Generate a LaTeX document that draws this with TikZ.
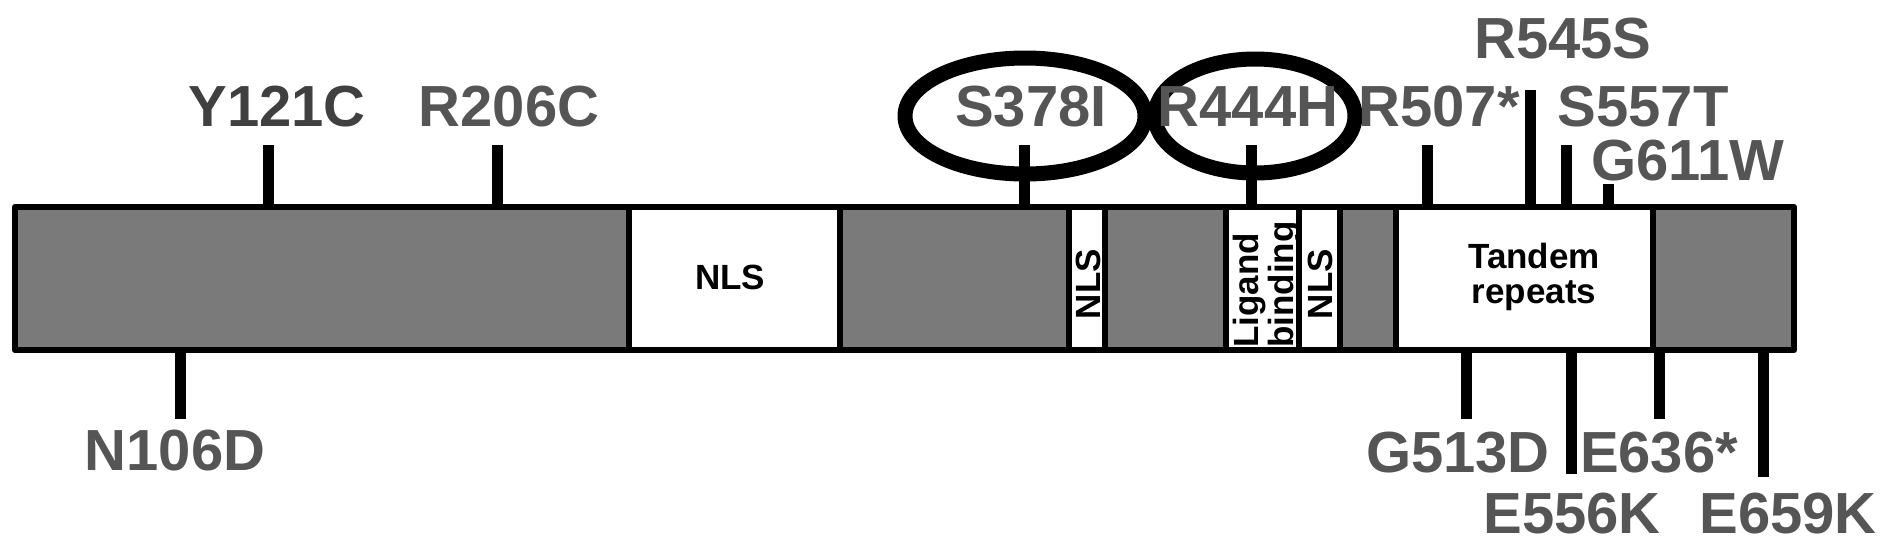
\documentclass[tikz,border=0pt]{standalone}
\usepackage{fontspec}
\setmainfont{Liberation Sans}
\usepackage{xcolor}
\usepackage{tikz}
\usetikzlibrary{calc}
\definecolor{domaingray}{HTML}{7A7A7A}
\definecolor{labelgray}{HTML}{555555}
\definecolor{darklabel}{HTML}{404040}

\begin{document}
\begin{tikzpicture}[x=1pt, y=-1pt, line cap=butt,
    mutlabel/.style={font=\bfseries\fontsize{58}{58}\selectfont, text=labelgray, inner sep=0pt, anchor=base},
    domtext/.style={font=\bfseries\fontsize{35}{35.5}\selectfont, inner sep=0pt, align=center},
    mutline/.style={line width=11pt},
    divider/.style={line width=6pt}]
  \useasboundingbox (0,0) rectangle (1890,547);
  % domains of the protein
  \fill[domaingray] (15,207) rectangle (1794,350);
  \fill[white] (629,207) rectangle (840,350);
  \fill[white] (1069,207) rectangle (1104.5,350);
  \fill[white] (1226,207) rectangle (1340,350);
  \fill[white] (1396,207) rectangle (1653,350);
  \foreach \b in {629,840,1069,1104.5,1226,1298.5,1340,1396,1653}
    \draw[divider] (\b,207) -- (\b,350);
  % mutation ticks above and below
  \foreach \m/\x/\e in {y121c/268/145, r206c/497/145, s378i/1024/145, r444h/1251/145,
                        r507/1427/145, r545s/1530/90, s557t/1566/145, g611w/1608/184}{
    \coordinate (\m-base) at (\x,207);
    \coordinate (\m-end) at (\x,\e);
    \draw[mutline] (\m-base) -- (\m-end);
  }
  \foreach \m/\x/\e in {n106d/180/419, g513d/1466/419, e556k/1571/474,
                        e636/1659/419, e659k/1763/477}{
    \coordinate (\m-base) at (\x,350);
    \coordinate (\m-end) at (\x,\e);
    \draw[mutline] (\m-base) -- (\m-end);
  }
  \draw[line width=6.5pt, line join=round] (15,207) rectangle (1794,350);
  % domain texts
  \node[domtext] (nls1) at (730,277) {NLS};
  \node[domtext, rotate=90] (nls2) at (1088.5,284) {NLS};
  \node[domtext, align=left, rotate=90, anchor=west] (ligand) at (1267,348) {Ligand\\binding};
  \node[domtext, rotate=90] (nls3) at (1320,284) {NLS};
  \node[domtext] (tandem) at (1534,277) {Tandem\\repeats};
  % circled mutations
  \draw[line width=15pt] (1025,116) ellipse [x radius=120pt, y radius=58pt];
  \draw[line width=15pt] (1255,116) ellipse [x radius=100pt, y radius=57pt];
  % labels
  \node[mutlabel, text=darklabel] (lab-y121c) at (277,126) {Y121C};
  \node[mutlabel] (lab-r206c) at (509,126) {R206C};
  \node[mutlabel] (lab-s378i) at (1031,126) {S378I};
  \node[mutlabel] (lab-r444h) at (1248,126) {R444H};
  \node[mutlabel] (lab-r507) at (1439,126) {R507*};
  \node[mutlabel] (lab-r545s) at (1563,58) {R545S};
  \node[mutlabel] (lab-s557t) at (1643,126) {S557T};
  \node[mutlabel] (lab-g611w) at (1688,180) {G611W};
  \node[mutlabel] (lab-n106d) at (175,470) {N106D};
  \node[mutlabel] (lab-g513d) at (1458,472) {G513D};
  \node[mutlabel] (lab-e636) at (1659,472) {E636*};
  \node[mutlabel] (lab-e556k) at (1572,533) {E556K};
  \node[mutlabel] (lab-e659k) at (1788,533) {E659K};
\end{tikzpicture}
\end{document}
